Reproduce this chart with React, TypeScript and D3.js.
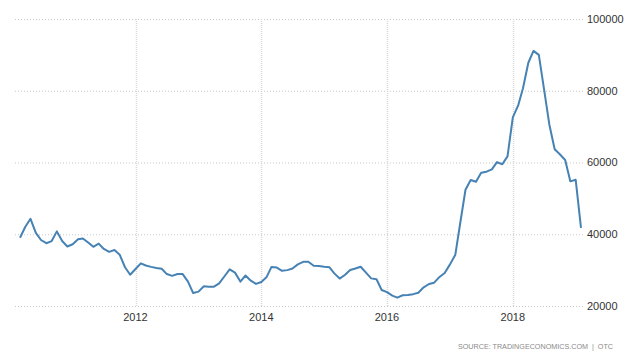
import * as d3 from "d3";
import { useEffect, useRef } from "react";

// monthly values, Mar 2010 .. Feb 2019
const startMonth = new Date(2010, 2, 1);
const values = [
  39040, 42100, 44300, 40400, 38400, 37500, 38100, 40800, 38100, 36600,
  37200, 38600, 38800, 37700, 36500, 37400, 35900, 35100, 35600, 34300,
  30800, 28700, 30300, 31900, 31300, 30900, 30600, 30400, 28900, 28400,
  28900, 28900, 26800, 23600, 24000, 25500, 25400, 25400, 26300, 28300,
  30200, 29300, 26800, 28500, 27050, 26150, 26700, 28100, 30900, 30700,
  29800, 30000, 30450, 31600, 32300, 32350, 31200, 31150, 30950, 30790,
  29100, 27650, 28650, 30050, 30450, 30950, 29280, 27700, 27450, 24450,
  23850, 22900, 22330, 23000, 23070, 23300, 23700, 25210, 26130, 26500,
  28100, 29200, 31600, 34300, 43000, 52400, 55130, 54650, 57160, 57440,
  58100, 60100, 59500, 61700, 72600, 75900, 80700, 87800, 91100, 90000,
  80500, 70600, 63700, 62300, 60700, 54750, 55200, 41750,
];
const yTicks = [20000, 40000, 60000, 80000, 100000];
const xTickYears = [2012, 2014, 2016, 2018];
const sourceText = "SOURCE: TRADINGECONOMICS.COM  |  OTC";

export default function App() {
  const svgRef = useRef<SVGSVGElement>(null);

  useEffect(() => {
    const svg = d3.select(svgRef.current);
    svg.selectAll("*").remove();

    const data = values.map((v, i) => ({
      date: d3.timeMonth.offset(startMonth, i),
      value: v,
    }));

    const x = d3.scaleTime()
      .domain([data[0].date, data[data.length - 1].date])
      .range([20, 581]);
    const y = d3.scaleLinear().domain([20000, 100000]).range([306, 19]);

    // horizontal grid
    svg.append("g")
      .selectAll("line")
      .data(yTicks)
      .join("line")
      .attr("x1", 15)
      .attr("x2", 585)
      .attr("y1", (d) => y(d) + 0.5)
      .attr("y2", (d) => y(d) + 0.5)
      .attr("stroke", "#c8c8c8")
      .attr("stroke-dasharray", "1,2");

    // vertical grid at years
    svg.append("g")
      .selectAll("line")
      .data(xTickYears)
      .join("line")
      .attr("x1", (d) => Math.round(x(new Date(d, 0, 1))) + 0.5)
      .attr("x2", (d) => Math.round(x(new Date(d, 0, 1))) + 0.5)
      .attr("y1", y(100000))
      .attr("y2", y(20000))
      .attr("stroke", "#d8d8d8")
      .attr("stroke-width", 1.5)
      .attr("stroke-dasharray", "1,1");

    // y labels on the right
    svg.append("g")
      .selectAll("text")
      .data(yTicks)
      .join("text")
      .attr("x", 587)
      .attr("y", (d) => y(d))
      .attr("dy", "0.35em")
      .attr("font-family", "Liberation Sans, Arial, sans-serif")
      .attr("font-size", 11)
      .attr("fill", "#333")
      .text((d) => d);

    // x labels
    svg.append("g")
      .selectAll("text")
      .data(xTickYears)
      .join("text")
      .attr("x", (d) => x(new Date(d, 0, 1)))
      .attr("y", 321)
      .attr("text-anchor", "middle")
      .attr("font-family", "Liberation Sans, Arial, sans-serif")
      .attr("font-size", 11)
      .attr("fill", "#333")
      .text((d) => d);

    const line = d3.line<{ date: Date; value: number }>()
      .x((d) => x(d.date))
      .y((d) => y(d.value));

    svg.append("path")
      .datum(data)
      .attr("d", line)
      .attr("fill", "none")
      .attr("stroke", "#4682b4")
      .attr("stroke-width", 2)
      .attr("stroke-linejoin", "round");

    svg.append("text")
      .attr("x", 613)
      .attr("y", 349)
      .attr("text-anchor", "end")
      .attr("font-family", "Liberation Sans, Arial, sans-serif")
      .attr("font-size", 7.2)
      .attr("fill", "#8a8a8a")
      .style("white-space", "pre")
      .text(sourceText);
  }, []);

  return (
    <svg
      ref={svgRef}
      width={633}
      height={355}
      style={{ position: "absolute", left: 0, top: 0, background: "#fff" }}
    />
  );
}
